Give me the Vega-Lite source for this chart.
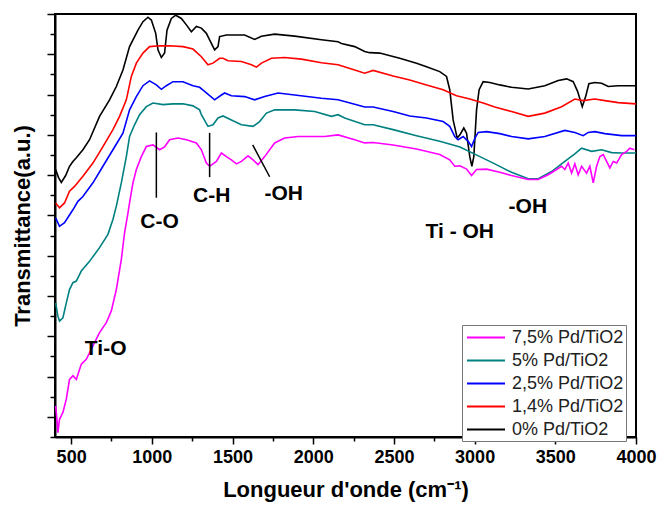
{
  "$schema": "https://vega.github.io/schema/vega-lite/v6.json",
  "width": 581,
  "height": 423,
  "autosize": "none",
  "padding": {"left": 55, "top": 14, "right": 21, "bottom": 69},
  "config": {
    "view": {"stroke": "black", "strokeWidth": 2},
    "font": "Liberation Sans",
    "axis": {"domainColor": "black", "domainWidth": 2, "tickColor": "black", "tickWidth": 1.5, "grid": false, "labelFont": "Liberation Sans", "labelFontWeight": "bold", "labelColor": "black", "titleColor": "black", "titleFont": "Liberation Sans", "titleFontWeight": "bold"}
  },
  "datasets": {
    "spectra": [
      {"sample":"0% Pd/TiO2","wavenumber":404,"T":6.14},{"sample":"0% Pd/TiO2","wavenumber":422,"T":5.94},{"sample":"0% Pd/TiO2","wavenumber":439,"T":5.82},{"sample":"0% Pd/TiO2","wavenumber":466,"T":5.99},{"sample":"0% Pd/TiO2","wavenumber":490,"T":6.22},{"sample":"0% Pd/TiO2","wavenumber":511,"T":6.34},{"sample":"0% Pd/TiO2","wavenumber":532,"T":6.43},{"sample":"0% Pd/TiO2","wavenumber":573,"T":6.63},{"sample":"0% Pd/TiO2","wavenumber":614,"T":6.88},{"sample":"0% Pd/TiO2","wavenumber":676,"T":7.46},{"sample":"0% Pd/TiO2","wavenumber":738,"T":7.87},{"sample":"0% Pd/TiO2","wavenumber":780,"T":8.20},{"sample":"0% Pd/TiO2","wavenumber":821,"T":8.61},{"sample":"0% Pd/TiO2","wavenumber":862,"T":9.19},{"sample":"0% Pd/TiO2","wavenumber":914,"T":9.60},{"sample":"0% Pd/TiO2","wavenumber":945,"T":9.81},{"sample":"0% Pd/TiO2","wavenumber":976,"T":9.92},{"sample":"0% Pd/TiO2","wavenumber":997,"T":9.85},{"sample":"0% Pd/TiO2","wavenumber":1024,"T":9.52},{"sample":"0% Pd/TiO2","wavenumber":1038,"T":9.11},{"sample":"0% Pd/TiO2","wavenumber":1059,"T":8.92},{"sample":"0% Pd/TiO2","wavenumber":1079,"T":9.03},{"sample":"0% Pd/TiO2","wavenumber":1094,"T":9.60},{"sample":"0% Pd/TiO2","wavenumber":1121,"T":9.89},{"sample":"0% Pd/TiO2","wavenumber":1148,"T":9.97},{"sample":"0% Pd/TiO2","wavenumber":1183,"T":9.89},{"sample":"0% Pd/TiO2","wavenumber":1214,"T":9.73},{"sample":"0% Pd/TiO2","wavenumber":1245,"T":9.56},{"sample":"0% Pd/TiO2","wavenumber":1276,"T":9.69},{"sample":"0% Pd/TiO2","wavenumber":1307,"T":9.65},{"sample":"0% Pd/TiO2","wavenumber":1338,"T":9.52},{"sample":"0% Pd/TiO2","wavenumber":1358,"T":9.36},{"sample":"0% Pd/TiO2","wavenumber":1389,"T":9.11},{"sample":"0% Pd/TiO2","wavenumber":1410,"T":9.19},{"sample":"0% Pd/TiO2","wavenumber":1420,"T":9.44},{"sample":"0% Pd/TiO2","wavenumber":1462,"T":9.48},{"sample":"0% Pd/TiO2","wavenumber":1575,"T":9.48},{"sample":"0% Pd/TiO2","wavenumber":1637,"T":9.37},{"sample":"0% Pd/TiO2","wavenumber":1679,"T":9.45},{"sample":"0% Pd/TiO2","wavenumber":1761,"T":9.50},{"sample":"0% Pd/TiO2","wavenumber":1885,"T":9.45},{"sample":"0% Pd/TiO2","wavenumber":2051,"T":9.36},{"sample":"0% Pd/TiO2","wavenumber":2154,"T":9.31},{"sample":"0% Pd/TiO2","wavenumber":2175,"T":9.27},{"sample":"0% Pd/TiO2","wavenumber":2257,"T":9.19},{"sample":"0% Pd/TiO2","wavenumber":2319,"T":9.07},{"sample":"0% Pd/TiO2","wavenumber":2350,"T":9.04},{"sample":"0% Pd/TiO2","wavenumber":2412,"T":9.03},{"sample":"0% Pd/TiO2","wavenumber":2536,"T":8.90},{"sample":"0% Pd/TiO2","wavenumber":2640,"T":8.78},{"sample":"0% Pd/TiO2","wavenumber":2702,"T":8.69},{"sample":"0% Pd/TiO2","wavenumber":2784,"T":8.57},{"sample":"0% Pd/TiO2","wavenumber":2826,"T":8.45},{"sample":"0% Pd/TiO2","wavenumber":2846,"T":8.12},{"sample":"0% Pd/TiO2","wavenumber":2867,"T":7.37},{"sample":"0% Pd/TiO2","wavenumber":2892,"T":6.92},{"sample":"0% Pd/TiO2","wavenumber":2909,"T":7.00},{"sample":"0% Pd/TiO2","wavenumber":2933,"T":7.17},{"sample":"0% Pd/TiO2","wavenumber":2950,"T":7.04},{"sample":"0% Pd/TiO2","wavenumber":2970,"T":6.46},{"sample":"0% Pd/TiO2","wavenumber":2983,"T":6.22},{"sample":"0% Pd/TiO2","wavenumber":2995,"T":6.46},{"sample":"0% Pd/TiO2","wavenumber":3012,"T":7.62},{"sample":"0% Pd/TiO2","wavenumber":3028,"T":8.12},{"sample":"0% Pd/TiO2","wavenumber":3053,"T":8.32},{"sample":"0% Pd/TiO2","wavenumber":3094,"T":8.30},{"sample":"0% Pd/TiO2","wavenumber":3156,"T":8.24},{"sample":"0% Pd/TiO2","wavenumber":3229,"T":8.18},{"sample":"0% Pd/TiO2","wavenumber":3332,"T":8.14},{"sample":"0% Pd/TiO2","wavenumber":3435,"T":8.22},{"sample":"0% Pd/TiO2","wavenumber":3518,"T":8.35},{"sample":"0% Pd/TiO2","wavenumber":3570,"T":8.39},{"sample":"0% Pd/TiO2","wavenumber":3611,"T":8.32},{"sample":"0% Pd/TiO2","wavenumber":3638,"T":8.08},{"sample":"0% Pd/TiO2","wavenumber":3667,"T":7.70},{"sample":"0% Pd/TiO2","wavenumber":3688,"T":7.95},{"sample":"0% Pd/TiO2","wavenumber":3708,"T":8.27},{"sample":"0% Pd/TiO2","wavenumber":3745,"T":8.30},{"sample":"0% Pd/TiO2","wavenumber":3787,"T":8.28},{"sample":"0% Pd/TiO2","wavenumber":3828,"T":8.20},{"sample":"0% Pd/TiO2","wavenumber":3890,"T":8.22},{"sample":"0% Pd/TiO2","wavenumber":4000,"T":8.22},
      {"sample":"1,4% Pd/TiO2","wavenumber":404,"T":5.31},{"sample":"1,4% Pd/TiO2","wavenumber":428,"T":5.19},{"sample":"1,4% Pd/TiO2","wavenumber":459,"T":5.31},{"sample":"1,4% Pd/TiO2","wavenumber":490,"T":5.60},{"sample":"1,4% Pd/TiO2","wavenumber":521,"T":5.72},{"sample":"1,4% Pd/TiO2","wavenumber":573,"T":5.97},{"sample":"1,4% Pd/TiO2","wavenumber":635,"T":6.30},{"sample":"1,4% Pd/TiO2","wavenumber":697,"T":6.71},{"sample":"1,4% Pd/TiO2","wavenumber":759,"T":7.13},{"sample":"1,4% Pd/TiO2","wavenumber":800,"T":7.46},{"sample":"1,4% Pd/TiO2","wavenumber":842,"T":7.87},{"sample":"1,4% Pd/TiO2","wavenumber":873,"T":8.45},{"sample":"1,4% Pd/TiO2","wavenumber":904,"T":8.78},{"sample":"1,4% Pd/TiO2","wavenumber":945,"T":9.03},{"sample":"1,4% Pd/TiO2","wavenumber":986,"T":9.19},{"sample":"1,4% Pd/TiO2","wavenumber":1048,"T":9.21},{"sample":"1,4% Pd/TiO2","wavenumber":1110,"T":9.21},{"sample":"1,4% Pd/TiO2","wavenumber":1193,"T":9.19},{"sample":"1,4% Pd/TiO2","wavenumber":1255,"T":9.13},{"sample":"1,4% Pd/TiO2","wavenumber":1307,"T":8.94},{"sample":"1,4% Pd/TiO2","wavenumber":1348,"T":8.74},{"sample":"1,4% Pd/TiO2","wavenumber":1379,"T":8.78},{"sample":"1,4% Pd/TiO2","wavenumber":1420,"T":8.90},{"sample":"1,4% Pd/TiO2","wavenumber":1441,"T":8.90},{"sample":"1,4% Pd/TiO2","wavenumber":1472,"T":8.84},{"sample":"1,4% Pd/TiO2","wavenumber":1555,"T":8.82},{"sample":"1,4% Pd/TiO2","wavenumber":1617,"T":8.74},{"sample":"1,4% Pd/TiO2","wavenumber":1648,"T":8.68},{"sample":"1,4% Pd/TiO2","wavenumber":1679,"T":8.78},{"sample":"1,4% Pd/TiO2","wavenumber":1741,"T":8.90},{"sample":"1,4% Pd/TiO2","wavenumber":1823,"T":8.92},{"sample":"1,4% Pd/TiO2","wavenumber":1927,"T":8.88},{"sample":"1,4% Pd/TiO2","wavenumber":2051,"T":8.79},{"sample":"1,4% Pd/TiO2","wavenumber":2154,"T":8.74},{"sample":"1,4% Pd/TiO2","wavenumber":2257,"T":8.61},{"sample":"1,4% Pd/TiO2","wavenumber":2319,"T":8.53},{"sample":"1,4% Pd/TiO2","wavenumber":2371,"T":8.60},{"sample":"1,4% Pd/TiO2","wavenumber":2495,"T":8.46},{"sample":"1,4% Pd/TiO2","wavenumber":2598,"T":8.36},{"sample":"1,4% Pd/TiO2","wavenumber":2702,"T":8.24},{"sample":"1,4% Pd/TiO2","wavenumber":2805,"T":8.12},{"sample":"1,4% Pd/TiO2","wavenumber":2888,"T":7.97},{"sample":"1,4% Pd/TiO2","wavenumber":2970,"T":7.89},{"sample":"1,4% Pd/TiO2","wavenumber":3053,"T":7.79},{"sample":"1,4% Pd/TiO2","wavenumber":3125,"T":7.69},{"sample":"1,4% Pd/TiO2","wavenumber":3229,"T":7.58},{"sample":"1,4% Pd/TiO2","wavenumber":3332,"T":7.46},{"sample":"1,4% Pd/TiO2","wavenumber":3435,"T":7.54},{"sample":"1,4% Pd/TiO2","wavenumber":3539,"T":7.70},{"sample":"1,4% Pd/TiO2","wavenumber":3621,"T":7.89},{"sample":"1,4% Pd/TiO2","wavenumber":3673,"T":7.85},{"sample":"1,4% Pd/TiO2","wavenumber":3745,"T":7.89},{"sample":"1,4% Pd/TiO2","wavenumber":3807,"T":7.85},{"sample":"1,4% Pd/TiO2","wavenumber":3890,"T":7.80},{"sample":"1,4% Pd/TiO2","wavenumber":4000,"T":7.77},
      {"sample":"2,5% Pd/TiO2","wavenumber":404,"T":4.94},{"sample":"2,5% Pd/TiO2","wavenumber":428,"T":4.73},{"sample":"2,5% Pd/TiO2","wavenumber":459,"T":4.82},{"sample":"2,5% Pd/TiO2","wavenumber":511,"T":5.14},{"sample":"2,5% Pd/TiO2","wavenumber":542,"T":5.35},{"sample":"2,5% Pd/TiO2","wavenumber":573,"T":5.47},{"sample":"2,5% Pd/TiO2","wavenumber":635,"T":5.81},{"sample":"2,5% Pd/TiO2","wavenumber":697,"T":6.22},{"sample":"2,5% Pd/TiO2","wavenumber":759,"T":6.63},{"sample":"2,5% Pd/TiO2","wavenumber":821,"T":7.04},{"sample":"2,5% Pd/TiO2","wavenumber":862,"T":7.62},{"sample":"2,5% Pd/TiO2","wavenumber":904,"T":7.95},{"sample":"2,5% Pd/TiO2","wavenumber":945,"T":8.22},{"sample":"2,5% Pd/TiO2","wavenumber":986,"T":8.34},{"sample":"2,5% Pd/TiO2","wavenumber":1028,"T":8.24},{"sample":"2,5% Pd/TiO2","wavenumber":1059,"T":8.13},{"sample":"2,5% Pd/TiO2","wavenumber":1090,"T":8.22},{"sample":"2,5% Pd/TiO2","wavenumber":1131,"T":8.32},{"sample":"2,5% Pd/TiO2","wavenumber":1193,"T":8.32},{"sample":"2,5% Pd/TiO2","wavenumber":1255,"T":8.22},{"sample":"2,5% Pd/TiO2","wavenumber":1296,"T":8.18},{"sample":"2,5% Pd/TiO2","wavenumber":1327,"T":8.08},{"sample":"2,5% Pd/TiO2","wavenumber":1389,"T":7.87},{"sample":"2,5% Pd/TiO2","wavenumber":1431,"T":7.99},{"sample":"2,5% Pd/TiO2","wavenumber":1451,"T":8.04},{"sample":"2,5% Pd/TiO2","wavenumber":1493,"T":7.97},{"sample":"2,5% Pd/TiO2","wavenumber":1575,"T":7.95},{"sample":"2,5% Pd/TiO2","wavenumber":1637,"T":7.87},{"sample":"2,5% Pd/TiO2","wavenumber":1699,"T":7.95},{"sample":"2,5% Pd/TiO2","wavenumber":1782,"T":8.04},{"sample":"2,5% Pd/TiO2","wavenumber":1885,"T":7.99},{"sample":"2,5% Pd/TiO2","wavenumber":2051,"T":7.91},{"sample":"2,5% Pd/TiO2","wavenumber":2154,"T":7.87},{"sample":"2,5% Pd/TiO2","wavenumber":2257,"T":7.76},{"sample":"2,5% Pd/TiO2","wavenumber":2319,"T":7.69},{"sample":"2,5% Pd/TiO2","wavenumber":2371,"T":7.69},{"sample":"2,5% Pd/TiO2","wavenumber":2495,"T":7.58},{"sample":"2,5% Pd/TiO2","wavenumber":2598,"T":7.47},{"sample":"2,5% Pd/TiO2","wavenumber":2702,"T":7.42},{"sample":"2,5% Pd/TiO2","wavenumber":2805,"T":7.33},{"sample":"2,5% Pd/TiO2","wavenumber":2846,"T":7.21},{"sample":"2,5% Pd/TiO2","wavenumber":2877,"T":6.96},{"sample":"2,5% Pd/TiO2","wavenumber":2898,"T":6.88},{"sample":"2,5% Pd/TiO2","wavenumber":2929,"T":6.96},{"sample":"2,5% Pd/TiO2","wavenumber":2960,"T":6.84},{"sample":"2,5% Pd/TiO2","wavenumber":2981,"T":6.71},{"sample":"2,5% Pd/TiO2","wavenumber":3002,"T":6.92},{"sample":"2,5% Pd/TiO2","wavenumber":3022,"T":7.06},{"sample":"2,5% Pd/TiO2","wavenumber":3074,"T":7.08},{"sample":"2,5% Pd/TiO2","wavenumber":3156,"T":7.03},{"sample":"2,5% Pd/TiO2","wavenumber":3229,"T":6.96},{"sample":"2,5% Pd/TiO2","wavenumber":3332,"T":6.90},{"sample":"2,5% Pd/TiO2","wavenumber":3435,"T":6.96},{"sample":"2,5% Pd/TiO2","wavenumber":3559,"T":7.11},{"sample":"2,5% Pd/TiO2","wavenumber":3621,"T":7.06},{"sample":"2,5% Pd/TiO2","wavenumber":3673,"T":6.98},{"sample":"2,5% Pd/TiO2","wavenumber":3704,"T":7.06},{"sample":"2,5% Pd/TiO2","wavenumber":3745,"T":7.08},{"sample":"2,5% Pd/TiO2","wavenumber":3807,"T":7.03},{"sample":"2,5% Pd/TiO2","wavenumber":3911,"T":6.98},{"sample":"2,5% Pd/TiO2","wavenumber":4000,"T":6.98},
      {"sample":"5% Pd/TiO2","wavenumber":404,"T":2.83},{"sample":"5% Pd/TiO2","wavenumber":418,"T":2.50},{"sample":"5% Pd/TiO2","wavenumber":428,"T":2.38},{"sample":"5% Pd/TiO2","wavenumber":449,"T":2.46},{"sample":"5% Pd/TiO2","wavenumber":470,"T":2.83},{"sample":"5% Pd/TiO2","wavenumber":490,"T":3.16},{"sample":"5% Pd/TiO2","wavenumber":511,"T":3.33},{"sample":"5% Pd/TiO2","wavenumber":532,"T":3.37},{"sample":"5% Pd/TiO2","wavenumber":563,"T":3.62},{"sample":"5% Pd/TiO2","wavenumber":614,"T":3.86},{"sample":"5% Pd/TiO2","wavenumber":676,"T":4.20},{"sample":"5% Pd/TiO2","wavenumber":728,"T":4.53},{"sample":"5% Pd/TiO2","wavenumber":759,"T":4.90},{"sample":"5% Pd/TiO2","wavenumber":780,"T":5.23},{"sample":"5% Pd/TiO2","wavenumber":811,"T":5.81},{"sample":"5% Pd/TiO2","wavenumber":842,"T":6.46},{"sample":"5% Pd/TiO2","wavenumber":862,"T":6.96},{"sample":"5% Pd/TiO2","wavenumber":893,"T":7.25},{"sample":"5% Pd/TiO2","wavenumber":924,"T":7.50},{"sample":"5% Pd/TiO2","wavenumber":966,"T":7.70},{"sample":"5% Pd/TiO2","wavenumber":1007,"T":7.79},{"sample":"5% Pd/TiO2","wavenumber":1069,"T":7.75},{"sample":"5% Pd/TiO2","wavenumber":1131,"T":7.77},{"sample":"5% Pd/TiO2","wavenumber":1193,"T":7.77},{"sample":"5% Pd/TiO2","wavenumber":1255,"T":7.72},{"sample":"5% Pd/TiO2","wavenumber":1296,"T":7.62},{"sample":"5% Pd/TiO2","wavenumber":1307,"T":7.50},{"sample":"5% Pd/TiO2","wavenumber":1348,"T":7.21},{"sample":"5% Pd/TiO2","wavenumber":1379,"T":7.25},{"sample":"5% Pd/TiO2","wavenumber":1410,"T":7.42},{"sample":"5% Pd/TiO2","wavenumber":1441,"T":7.47},{"sample":"5% Pd/TiO2","wavenumber":1493,"T":7.37},{"sample":"5% Pd/TiO2","wavenumber":1555,"T":7.25},{"sample":"5% Pd/TiO2","wavenumber":1627,"T":7.21},{"sample":"5% Pd/TiO2","wavenumber":1668,"T":7.33},{"sample":"5% Pd/TiO2","wavenumber":1710,"T":7.54},{"sample":"5% Pd/TiO2","wavenumber":1761,"T":7.62},{"sample":"5% Pd/TiO2","wavenumber":1885,"T":7.62},{"sample":"5% Pd/TiO2","wavenumber":2009,"T":7.58},{"sample":"5% Pd/TiO2","wavenumber":2113,"T":7.46},{"sample":"5% Pd/TiO2","wavenumber":2154,"T":7.50},{"sample":"5% Pd/TiO2","wavenumber":2195,"T":7.42},{"sample":"5% Pd/TiO2","wavenumber":2319,"T":7.25},{"sample":"5% Pd/TiO2","wavenumber":2371,"T":7.25},{"sample":"5% Pd/TiO2","wavenumber":2495,"T":7.13},{"sample":"5% Pd/TiO2","wavenumber":2640,"T":6.98},{"sample":"5% Pd/TiO2","wavenumber":2784,"T":6.84},{"sample":"5% Pd/TiO2","wavenumber":2909,"T":6.70},{"sample":"5% Pd/TiO2","wavenumber":3033,"T":6.46},{"sample":"5% Pd/TiO2","wavenumber":3125,"T":6.28},{"sample":"5% Pd/TiO2","wavenumber":3229,"T":6.07},{"sample":"5% Pd/TiO2","wavenumber":3332,"T":5.91},{"sample":"5% Pd/TiO2","wavenumber":3394,"T":5.91},{"sample":"5% Pd/TiO2","wavenumber":3477,"T":6.09},{"sample":"5% Pd/TiO2","wavenumber":3559,"T":6.34},{"sample":"5% Pd/TiO2","wavenumber":3621,"T":6.53},{"sample":"5% Pd/TiO2","wavenumber":3663,"T":6.67},{"sample":"5% Pd/TiO2","wavenumber":3725,"T":6.59},{"sample":"5% Pd/TiO2","wavenumber":3787,"T":6.63},{"sample":"5% Pd/TiO2","wavenumber":3849,"T":6.56},{"sample":"5% Pd/TiO2","wavenumber":3911,"T":6.55},{"sample":"5% Pd/TiO2","wavenumber":4000,"T":6.55},
      {"sample":"7,5% Pd/TiO2","wavenumber":404,"T":0.27},{"sample":"7,5% Pd/TiO2","wavenumber":412,"T":-0.06},{"sample":"7,5% Pd/TiO2","wavenumber":418,"T":-0.39},{"sample":"7,5% Pd/TiO2","wavenumber":428,"T":-0.06},{"sample":"7,5% Pd/TiO2","wavenumber":449,"T":0.11},{"sample":"7,5% Pd/TiO2","wavenumber":470,"T":0.44},{"sample":"7,5% Pd/TiO2","wavenumber":490,"T":0.93},{"sample":"7,5% Pd/TiO2","wavenumber":511,"T":1.02},{"sample":"7,5% Pd/TiO2","wavenumber":532,"T":0.93},{"sample":"7,5% Pd/TiO2","wavenumber":563,"T":1.31},{"sample":"7,5% Pd/TiO2","wavenumber":594,"T":1.43},{"sample":"7,5% Pd/TiO2","wavenumber":635,"T":1.76},{"sample":"7,5% Pd/TiO2","wavenumber":676,"T":2.09},{"sample":"7,5% Pd/TiO2","wavenumber":718,"T":2.34},{"sample":"7,5% Pd/TiO2","wavenumber":749,"T":2.63},{"sample":"7,5% Pd/TiO2","wavenumber":780,"T":3.16},{"sample":"7,5% Pd/TiO2","wavenumber":811,"T":3.91},{"sample":"7,5% Pd/TiO2","wavenumber":831,"T":4.57},{"sample":"7,5% Pd/TiO2","wavenumber":852,"T":5.06},{"sample":"7,5% Pd/TiO2","wavenumber":862,"T":5.31},{"sample":"7,5% Pd/TiO2","wavenumber":883,"T":5.81},{"sample":"7,5% Pd/TiO2","wavenumber":904,"T":6.14},{"sample":"7,5% Pd/TiO2","wavenumber":935,"T":6.46},{"sample":"7,5% Pd/TiO2","wavenumber":966,"T":6.71},{"sample":"7,5% Pd/TiO2","wavenumber":1007,"T":6.75},{"sample":"7,5% Pd/TiO2","wavenumber":1048,"T":6.63},{"sample":"7,5% Pd/TiO2","wavenumber":1079,"T":6.70},{"sample":"7,5% Pd/TiO2","wavenumber":1110,"T":6.88},{"sample":"7,5% Pd/TiO2","wavenumber":1162,"T":6.92},{"sample":"7,5% Pd/TiO2","wavenumber":1214,"T":6.88},{"sample":"7,5% Pd/TiO2","wavenumber":1276,"T":6.80},{"sample":"7,5% Pd/TiO2","wavenumber":1307,"T":6.63},{"sample":"7,5% Pd/TiO2","wavenumber":1338,"T":6.30},{"sample":"7,5% Pd/TiO2","wavenumber":1358,"T":6.22},{"sample":"7,5% Pd/TiO2","wavenumber":1400,"T":6.34},{"sample":"7,5% Pd/TiO2","wavenumber":1431,"T":6.55},{"sample":"7,5% Pd/TiO2","wavenumber":1462,"T":6.46},{"sample":"7,5% Pd/TiO2","wavenumber":1493,"T":6.38},{"sample":"7,5% Pd/TiO2","wavenumber":1524,"T":6.28},{"sample":"7,5% Pd/TiO2","wavenumber":1555,"T":6.34},{"sample":"7,5% Pd/TiO2","wavenumber":1596,"T":6.48},{"sample":"7,5% Pd/TiO2","wavenumber":1627,"T":6.38},{"sample":"7,5% Pd/TiO2","wavenumber":1658,"T":6.26},{"sample":"7,5% Pd/TiO2","wavenumber":1699,"T":6.46},{"sample":"7,5% Pd/TiO2","wavenumber":1761,"T":6.80},{"sample":"7,5% Pd/TiO2","wavenumber":1823,"T":6.92},{"sample":"7,5% Pd/TiO2","wavenumber":1906,"T":6.96},{"sample":"7,5% Pd/TiO2","wavenumber":1989,"T":6.96},{"sample":"7,5% Pd/TiO2","wavenumber":2071,"T":6.96},{"sample":"7,5% Pd/TiO2","wavenumber":2154,"T":7.00},{"sample":"7,5% Pd/TiO2","wavenumber":2257,"T":6.88},{"sample":"7,5% Pd/TiO2","wavenumber":2319,"T":6.80},{"sample":"7,5% Pd/TiO2","wavenumber":2371,"T":6.81},{"sample":"7,5% Pd/TiO2","wavenumber":2495,"T":6.75},{"sample":"7,5% Pd/TiO2","wavenumber":2640,"T":6.65},{"sample":"7,5% Pd/TiO2","wavenumber":2784,"T":6.51},{"sample":"7,5% Pd/TiO2","wavenumber":2846,"T":6.38},{"sample":"7,5% Pd/TiO2","wavenumber":2877,"T":6.22},{"sample":"7,5% Pd/TiO2","wavenumber":2909,"T":6.23},{"sample":"7,5% Pd/TiO2","wavenumber":2950,"T":6.15},{"sample":"7,5% Pd/TiO2","wavenumber":2981,"T":5.99},{"sample":"7,5% Pd/TiO2","wavenumber":3012,"T":6.14},{"sample":"7,5% Pd/TiO2","wavenumber":3074,"T":6.15},{"sample":"7,5% Pd/TiO2","wavenumber":3156,"T":6.07},{"sample":"7,5% Pd/TiO2","wavenumber":3229,"T":5.99},{"sample":"7,5% Pd/TiO2","wavenumber":3332,"T":5.89},{"sample":"7,5% Pd/TiO2","wavenumber":3394,"T":5.89},{"sample":"7,5% Pd/TiO2","wavenumber":3456,"T":6.01},{"sample":"7,5% Pd/TiO2","wavenumber":3508,"T":6.14},{"sample":"7,5% Pd/TiO2","wavenumber":3539,"T":6.22},{"sample":"7,5% Pd/TiO2","wavenumber":3559,"T":6.14},{"sample":"7,5% Pd/TiO2","wavenumber":3580,"T":6.30},{"sample":"7,5% Pd/TiO2","wavenumber":3601,"T":6.05},{"sample":"7,5% Pd/TiO2","wavenumber":3621,"T":6.28},{"sample":"7,5% Pd/TiO2","wavenumber":3642,"T":6.01},{"sample":"7,5% Pd/TiO2","wavenumber":3663,"T":6.22},{"sample":"7,5% Pd/TiO2","wavenumber":3694,"T":6.05},{"sample":"7,5% Pd/TiO2","wavenumber":3714,"T":6.22},{"sample":"7,5% Pd/TiO2","wavenumber":3735,"T":5.81},{"sample":"7,5% Pd/TiO2","wavenumber":3756,"T":6.22},{"sample":"7,5% Pd/TiO2","wavenumber":3776,"T":6.46},{"sample":"7,5% Pd/TiO2","wavenumber":3797,"T":6.51},{"sample":"7,5% Pd/TiO2","wavenumber":3818,"T":6.34},{"sample":"7,5% Pd/TiO2","wavenumber":3838,"T":6.18},{"sample":"7,5% Pd/TiO2","wavenumber":3859,"T":6.34},{"sample":"7,5% Pd/TiO2","wavenumber":3880,"T":6.30},{"sample":"7,5% Pd/TiO2","wavenumber":3911,"T":6.51},{"sample":"7,5% Pd/TiO2","wavenumber":3942,"T":6.59},{"sample":"7,5% Pd/TiO2","wavenumber":3962,"T":6.67},{"sample":"7,5% Pd/TiO2","wavenumber":3990,"T":6.63}
    ],
    "pointers": [
      {"x": 1028, "y": 7.06, "x2": 1028, "y2": 5.44},
      {"x": 1358, "y": 7.05, "x2": 1358, "y2": 5.95},
      {"x": 1625, "y": 6.75, "x2": 1730, "y2": 5.96}
    ],
    "labels": [
      {"label": "C-O", "x": 1048, "y": 4.83},
      {"label": "C-H", "x": 1371, "y": 5.49},
      {"label": "-OH", "x": 1817, "y": 5.52},
      {"label": "Ti-O", "x": 714, "y": 1.68},
      {"label": "Ti - OH", "x": 2908, "y": 4.60},
      {"label": "-OH", "x": 3330, "y": 5.22}
    ]
  },
  "layer": [
    {
      "data": {"name": "spectra"},
      "mark": {"type": "line", "strokeWidth": 1.6},
      "encoding": {
        "x": {"field": "wavenumber", "type": "quantitative", "scale": {"domain": [400, 4000], "nice": false, "zero": false},
          "axis": {"orient": "bottom", "values": [500, 1000, 1500, 2000, 2500, 3000, 3500, 4000], "format": "d", "tickSize": 7, "labelFontSize": 18, "labelPadding": 4, "labelFlush": false, "labelOverlap": false, "title": "Longueur d'onde (cm⁻¹)", "titleFontSize": 22, "titlePadding": 13}},
        "y": {"field": "T", "type": "quantitative", "scale": {"domain": [-0.5, 10], "nice": false, "zero": false},
          "axis": {"orient": "left", "values": [0, 1, 2, 3, 4, 5, 6, 7, 8, 9, 10], "labels": false, "tickSize": 8, "title": "Transmittance(a.u.)", "titleFontSize": 22, "titlePadding": 12}},
        "color": {"field": "sample", "type": "nominal",
          "scale": {"domain": ["7,5% Pd/TiO2", "5% Pd/TiO2", "2,5% Pd/TiO2", "1,4% Pd/TiO2", "0% Pd/TiO2"], "range": ["#FF00FF", "#008080", "#0000FF", "#FF0000", "#000000"]},
          "legend": {"orient": "none", "legendX": 407, "legendY": 311, "title": null, "symbolType": "M-2,0H2", "symbolSize": 361, "symbolStrokeWidth": 2, "symbolOffset": 11.5, "labelFontSize": 18, "labelFont": "Liberation Sans", "labelColor": "#222222", "strokeColor": "#777777", "fillColor": "white", "padding": 2, "rowPadding": 3, "labelOffset": 15.5}}
      }
    },
    {
      "data": {"name": "pointers"},
      "mark": {"type": "rule", "strokeWidth": 1.5, "color": "black"},
      "encoding": {
        "x": {"field": "x", "type": "quantitative", "axis": {"orient": "bottom", "values": [750, 1250, 1750, 2250, 2750, 3250, 3750], "labels": false, "tickSize": 4, "domain": false, "title": null}},
        "y": {"field": "y", "type": "quantitative", "axis": {"orient": "left", "values": [-0.5, 0.5, 1.5, 2.5, 3.5, 4.5, 5.5, 6.5, 7.5, 8.5, 9.5], "labels": false, "tickSize": 5, "domain": false, "title": null}},
        "x2": {"field": "x2"},
        "y2": {"field": "y2"}
      }
    },
    {
      "data": {"name": "labels"},
      "mark": {"type": "text", "fontSize": 21, "fontWeight": "bold", "font": "Liberation Sans", "color": "black", "baseline": "middle", "align": "center"},
      "encoding": {
        "x": {"field": "x", "type": "quantitative", "axis": null},
        "y": {"field": "y", "type": "quantitative", "axis": null},
        "text": {"field": "label"}
      }
    }
  ],
  "resolve": {"axis": {"x": "independent", "y": "independent"}}
}
